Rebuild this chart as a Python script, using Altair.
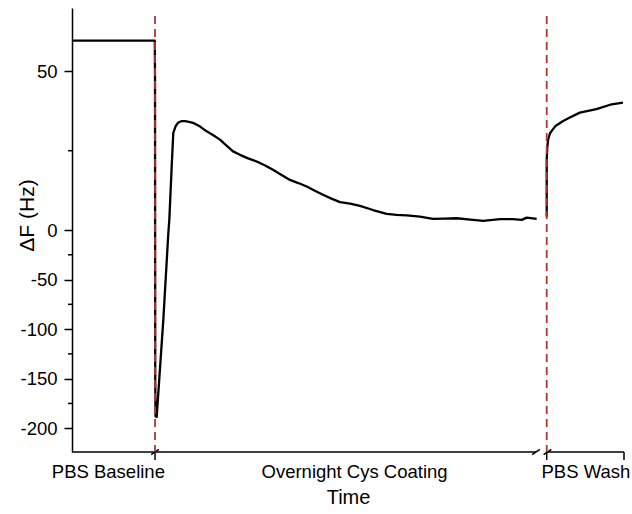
import altair as alt
import pandas as pd

FONT = "Liberation Sans"

# Frequency shift (Hz) over the run. Time is in arbitrary units along the
# broken time axis; the first block is baseline + overnight coating, the
# second block is the PBS wash recorded after the break.
run_t = [0.0, 15.0, 15.04, 15.08, 15.13, 15.34, 16.54, 17.45, 17.63, 18.06,
         18.35, 18.8, 19.2, 19.8, 20.47, 21.2, 21.92, 23.2, 24.4, 25.6, 26.8,
         28.0, 29.17, 30.43, 31.9, 33.46, 34.9, 36.41, 37.9, 39.49, 41.0,
         42.52, 44.0, 45.47, 47.0, 48.55, 50.36, 52.17, 54.53, 57.0, 58.8,
         60.63, 63.04, 65.4, 67.5, 69.69, 72.64, 74.46, 77.54, 79.89, 81.47,
         82.37, 84.18]
run_df = [59.7, 59.7, 47.0, -150.0, -188.0, -188.6, -91.0, -3.3, 3.2, 20.0,
          30.6, 32.8, 33.8, 34.3, 34.3, 34.1, 33.8, 32.6, 31.1, 29.9, 28.5,
          26.6, 24.8, 23.7, 22.6, 21.6, 20.4, 19.0, 17.4, 15.8, 14.8,
          13.7, 12.4, 11.1, 9.9, 8.8, 8.3, 7.6, 6.3, 5.1, 4.8,
          4.6, 4.2, 3.5, 3.6, 3.7, 3.2, 2.9, 3.4, 3.4, 3.2,
          3.9, 3.5]

wash_t = [86.0, 86.0, 86.1, 86.25, 86.6, 87.0, 87.6, 88.9, 90.0, 92.0, 95.0,
          97.5, 99.8]
wash_df = [4.2, 22.0, 26.0, 28.5, 30.5, 31.5, 32.8, 34.3, 35.3, 37.0, 38.1,
           39.5, 40.2]

# Event markers (buffer changes)
event_t = [15.04, 86.0]
event_top = 67.5

# Category labels under the time axis
phase_names = ["PBS Baseline", "Overnight Cys Coating", "PBS Wash"]
phase_centers = [6.5, 51.1, 93.0]
phase_bounds = [15.04, 86.0, 100.0]

# Broken y axis: 0..70 stretched, -224..0 compressed
y_domain = [-224, 0, 70]
y_range = [444, 222, 0]
y_major = [-200, -150, -100, -50, 0, 50]
y_minor = [25, -25, -75, -125, -175]

# Time axis line pieces with a break before the wash
axis_pieces_from = [0.0, 86.14]
axis_pieces_to = [84.06, 100.0]
break_marks = [15.04, 84.06, 86.14]

y_bottom = y_domain[0]

trace = pd.DataFrame({
    "t": run_t + wash_t,
    "dF": run_df + wash_df,
    "seg": ["run"] * len(run_t) + ["wash"] * len(wash_t),
    "i": list(range(len(run_t) + len(wash_t))),
})

x_scale = alt.Scale(domain=[0, 100], nice=False, zero=False)
y_scale = alt.Scale(domain=y_domain, range=y_range, nice=False, zero=False)

label_expr = " : ".join(
    f"datum.value < {(phase_bounds[k])} ? '{phase_names[k]}'"
    for k in range(len(phase_names) - 1)
) + f" : '{phase_names[-1]}'"

x_axis = alt.Axis(
    values=phase_centers, ticks=False, domain=False, grid=False,
    labelExpr=label_expr, labelFont=FONT, labelFontSize=18.5,
    labelColor="black", labelPadding=10, labelFlush=False,
    labelOverlap=False, labelBound=False, labelLimit=400,
    title="Time", titleFont=FONT, titleFontSize=20,
    titleFontWeight="normal", titleColor="black", titlePadding=7,
)

y_axis = alt.Axis(
    values=y_major, grid=False, tickSize=8, tickWidth=1.5,
    tickColor="black", domainColor="black", domainWidth=1.5,
    labelFont=FONT, labelFontSize=18.5, labelColor="black", labelPadding=7,
    labelExpr="datum.value < 0 ? '-' + abs(datum.value) : '' + datum.value",
    title="ΔF (Hz)", titleFont=FONT, titleFontSize=21,
    titleFontWeight="normal", titleColor="black",
    titleX=-45, titleY=207, titleAlign="center", titleBaseline="middle",
)

line = alt.Chart(trace).mark_line(
    color="black", strokeWidth=2.3, strokeJoin="round"
).encode(
    x=alt.X("t:Q", scale=x_scale, axis=x_axis),
    y=alt.Y("dF:Q", scale=y_scale, axis=y_axis),
    detail="seg:N",
    order="i:Q",
)

events = alt.Chart(pd.DataFrame({
    "t": event_t,
    "top": [event_top] * len(event_t),
    "bot": [y_bottom] * len(event_t),
})).mark_rule(color="#b8322f", strokeWidth=1.8, strokeDash=[8, 5]).encode(
    x="t:Q", y="top:Q", y2="bot:Q"
)

minor = alt.Chart(pd.DataFrame({"v": y_minor})).mark_rule(
    color="black", strokeWidth=1.5
).encode(y="v:Q", x=alt.value(-4), x2=alt.value(0))

axis_line = alt.Chart(pd.DataFrame({
    "a": axis_pieces_from, "b": axis_pieces_to,
    "y": [y_bottom] * len(axis_pieces_from),
})).mark_rule(color="black", strokeWidth=1.5).encode(
    x="a:Q", x2="b:Q", y="y:Q"
)

bound_ticks = alt.Chart(pd.DataFrame({
    "t": phase_bounds,
    "y": [y_bottom] * len(phase_bounds),
    "y2": [y_bottom - 8] * len(phase_bounds),
})).mark_rule(color="black", strokeWidth=1.5).encode(
    x="t:Q", y="y:Q", y2="y2:Q"
)

slashes = alt.Chart(pd.DataFrame({
    "x0": [c - 0.7 for c in break_marks],
    "x1": [c + 0.7 for c in break_marks],
    "y0": [y_bottom - 2.7] * len(break_marks),
    "y1": [y_bottom + 2.7] * len(break_marks),
})).mark_rule(color="black", strokeWidth=1.5).encode(
    x="x0:Q", x2="x1:Q", y="y0:Q", y2="y1:Q"
)

chart = alt.layer(
    line, axis_line, bound_ticks, slashes, minor, events
).properties(
    width=552, height=444,
    autosize=alt.AutoSizeParams(type="none"),
    padding={"left": 72, "top": 8, "right": 8, "bottom": 62},
    background="white",
).configure_view(stroke=None)

chart.save("out.html", embed_options={"renderer": "svg", "actions": False})
